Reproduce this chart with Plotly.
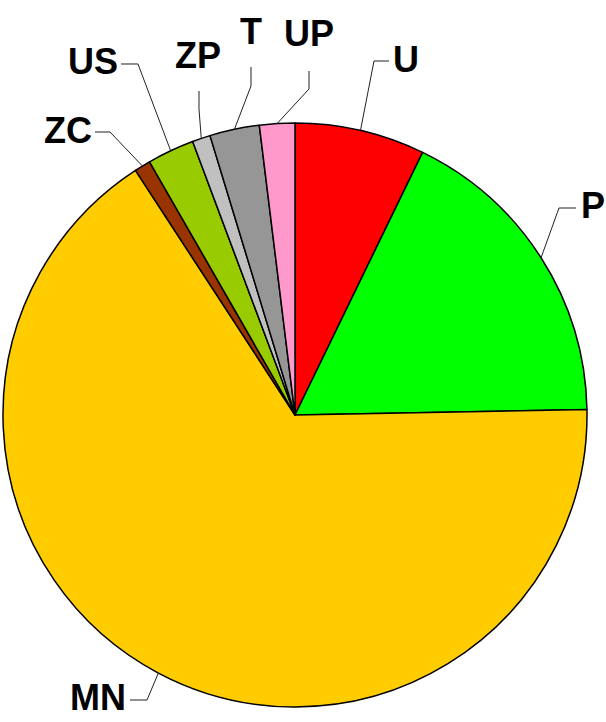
import numpy as np
import plotly.graph_objects as go

# ---- data ----
labels = ["U", "P", "MN", "ZC", "US", "ZP", "T", "UP"]
values = [7.2, 17.5, 66.1, 0.9, 2.6, 1.0, 2.75, 1.95]
colors = ["#FF0000", "#00FF00", "#FFCC00", "#993300", "#99CC00", "#C0C0C0", "#969696", "#FF99CC"]

# ---- layout geometry (pixels) ----
W, H = 606, 722
CX, CY, R = 295, 415, 292

# label layout: elbow point, end point of leader, label centre (pixels)
label_layout = {
    "U":  dict(elbow=(374, 61),  end=(389, 61),  text=(406, 60)),
    "P":  dict(elbow=(559, 208), end=(576, 208), text=(593, 206)),
    "MN": dict(elbow=(147, 700), end=(130, 700), text=(98, 697)),
    "ZC": dict(elbow=(110, 132), end=(95, 132),  text=(68, 130)),
    "US": dict(elbow=(138, 64),  end=(121, 64),  text=(93, 62)),
    "ZP": dict(elbow=(199, 109), end=(199, 91),  text=(198, 55)),
    "T":  dict(elbow=(251, 86),  end=(251, 67),  text=(251, 31)),
    "UP": dict(elbow=(309, 89),  end=(309, 71),  text=(309, 34)),
}


def px2paper(x, y):
    return x / W, 1 - y / H


fig = go.Figure()
fig.add_trace(go.Pie(
    labels=labels,
    values=values,
    marker=dict(colors=colors, line=dict(color="black", width=1.5)),
    textinfo="none",
    sort=False,
    direction="clockwise",
    rotation=0,
    hoverinfo="skip",
    domain=dict(x=[(CX - R) / W, (CX + R) / W],
                y=[1 - (CY + R) / H, 1 - (CY - R) / H]),
))

vals = np.array(values, dtype=float)
cum = np.cumsum(vals) / vals.sum() * 360.0
starts = np.concatenate([[0.0], cum[:-1]])
mids = np.radians((starts + cum) / 2.0)

shapes = []
annotations = []
for lab, a in zip(labels, mids):
    ex = CX + R * np.sin(a)
    ey = CY - R * np.cos(a)
    lay = label_layout[lab]
    pts = [(ex, ey), lay["elbow"], lay["end"]]
    path = ""
    for i, (x, y) in enumerate(pts):
        px_, py_ = px2paper(x, y)
        path += ("M" if i == 0 else " L") + f" {px_:.5f},{py_:.5f}"
    shapes.append(dict(type="path", path=path, xref="paper", yref="paper",
                       line=dict(color="#222222", width=1)))
    tx, ty = px2paper(*lay["text"])
    annotations.append(dict(x=tx, y=ty, xref="paper", yref="paper", text=f"<b>{lab}</b>",
                            showarrow=False, xanchor="center", yanchor="middle",
                            font=dict(family="Liberation Sans, Arial, sans-serif",
                                      size=36, color="black")))

fig.update_layout(
    width=W, height=H,
    margin=dict(l=0, r=0, t=0, b=0),
    showlegend=False,
    paper_bgcolor="white",
    plot_bgcolor="white",
    shapes=shapes,
    annotations=annotations,
)

fig.write_html("out.html", config={"displayModeBar": False},
               post_script="document.body.style.margin='0px';document.body.style.padding='0px';")
